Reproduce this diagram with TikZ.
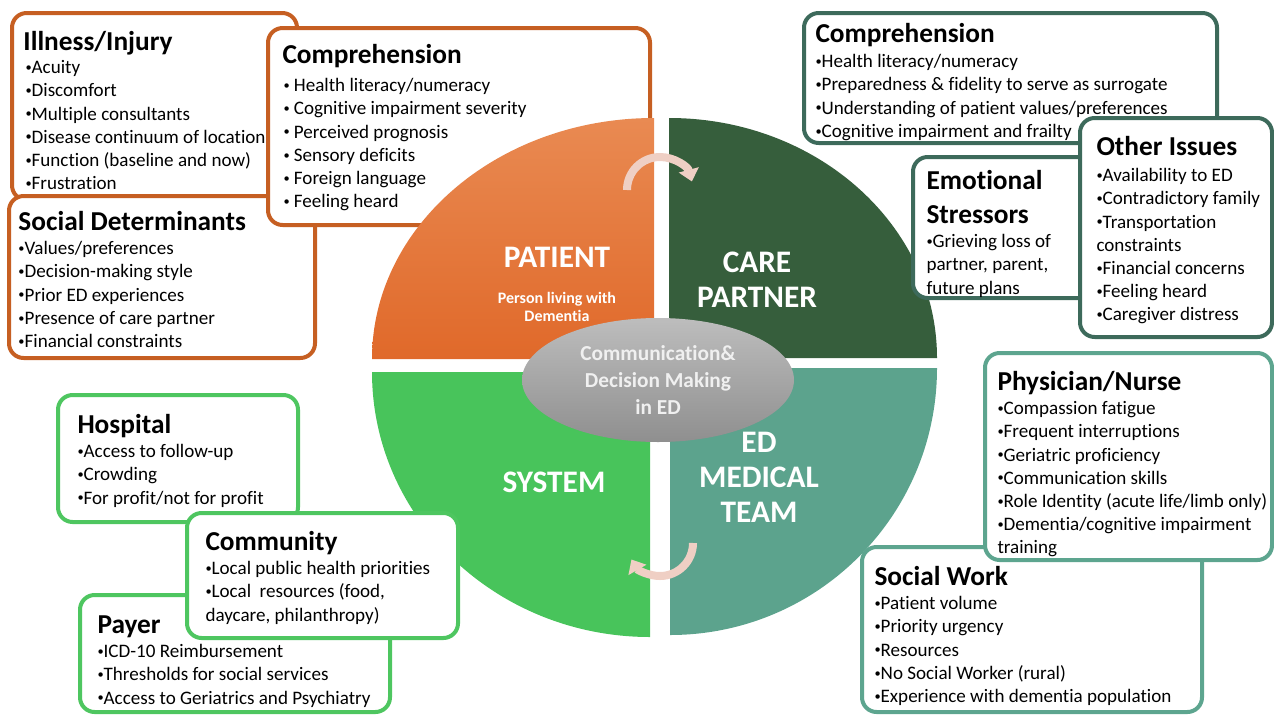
\documentclass[tikz,border=0pt]{standalone}
\usepackage{fontspec}
\usepackage{graphicx}
\setmainfont{Carlito}[Ligatures=NoCommon]
\usetikzlibrary{shapes.geometric,arrows.meta}

\definecolor{patTop}{HTML}{E98A52}
\definecolor{patBot}{HTML}{E0692A}
\definecolor{patEdge}{HTML}{C65F22}
\definecolor{cpFill}{HTML}{365E3C}
\definecolor{cpEdge}{HTML}{3D6A5B}
\definecolor{sysFill}{HTML}{48C45B}
\definecolor{sysEdge}{HTML}{4EC660}
\definecolor{edFill}{HTML}{5CA38D}
\definecolor{edEdge}{HTML}{5DA58F}
\definecolor{arrPink}{HTML}{EFCFC4}
\definecolor{hubTop}{HTML}{BDBDBD}
\definecolor{hubBot}{HTML}{8F8F8F}
\definecolor{hubText}{HTML}{F0F0F0}

\newcommand{\bul}{\raisebox{0.25ex}{\scalebox{0.65}{•}}}

\tikzset{every picture/.style={line width=0.75pt}}
\tikzset{
  patbox/.style={draw=patEdge, line width=3pt, fill=white, rounded corners=11pt},
  cpbox/.style={draw=cpEdge, line width=3pt, fill=white, rounded corners=11pt},
  sysbox/.style={draw=sysEdge, line width=3pt, fill=white, rounded corners=11pt},
  edbox/.style={draw=edEdge, line width=3pt, fill=white, rounded corners=11pt},
  ttl/.style={anchor=base west, inner sep=0pt, font=\fontsize{20.5}{25}\selectfont\bfseries},
  lst/.style={anchor=north west, inner sep=0pt, align=left, font=\fontsize{14.3}{17.4}\selectfont},
  quadlbl/.style={text=white, inner sep=0pt, align=center, font=\fontsize{23.5}{26.3}\selectfont\bfseries},
  sublbl/.style={text=white, inner sep=0pt, align=center, font=\fontsize{12}{13}\selectfont\bfseries},
  hub/.style={ellipse, minimum width=204pt, minimum height=93pt, inner sep=0pt, top color=hubTop, bottom color=hubBot, text=hubText, align=center, font=\fontsize{16}{20}\selectfont\bfseries},
  cyc/.style={draw=arrPink, line width=6pt, -{Triangle[width=15pt,length=9pt]}}
}

\begin{document}
\begin{tikzpicture}[x=0.75pt,y=0.75pt,yscale=-1,xscale=1]
\useasboundingbox (0,0) rectangle (1274,714);

%Patient boxes
\draw[patbox] (12,13) rectangle (297,200);
\node[ttl] (illT) at (23,50) {Illness/Injury};
\node[lst] (illL) at (25,60) {\bul Acuity\\\bul Discomfort\\\bul Multiple consultants\\\bul Disease continuum of location\\\bul Function (baseline and now)\\\bul Frustration};
\draw[patbox] (9,196) rectangle (315,358);
\node[ttl] (socT) at (18,230) {Social Determinants};
\node[lst] (socL) at (18,241) {\bul Values/preferences\\\bul Decision-making style\\\bul Prior ED experiences\\\bul Presence of care partner\\\bul Financial constraints};
\draw[patbox] (268,28) rectangle (650,225);
\node[ttl] (cmpT) at (282,63) {Comprehension};
\node[lst] (cmpL) at (283,78) {\bul{} Health literacy/numeracy\\\bul{} Cognitive impairment severity\\\bul{} Perceived prognosis\\\bul{} Sensory deficits\\\bul{} Foreign language\\\bul{} Feeling heard};

%Quadrants
\shade[top color=patTop, bottom color=patBot] (654,359) -- (372,359) arc[start angle=180, end angle=270, x radius=282, y radius=241] -- cycle;
\fill[cpFill] (669,358) -- (669,118) arc[start angle=270, end angle=360, x radius=268, y radius=240] -- cycle;
\fill[sysFill] (650,372) -- (372,372) arc[start angle=180, end angle=90, x radius=278, y radius=265] -- cycle;
\fill[edFill] (670,368) -- (937,368) arc[start angle=0, end angle=90, x radius=267, y radius=267] -- cycle;

%Cycle arrows
\coordinate (arrA) at (627,190);
\coordinate (arrB) at (693,543);
\draw[cyc] (arrA) arc[start angle=180, end angle=345, radius=33];
\draw[cyc] (arrB) arc[start angle=0, end angle=150, radius=33];

% Text Node
\node[quadlbl] (patLbl) at (557,257) {PATIENT};
\node[sublbl] (patSub) at (557,307) {Person living with\\Dementia};
\node[quadlbl] (cpLbl) at (757,280) {CARE\\PARTNER};
\node[quadlbl] (sysLbl) at (554,482) {SYSTEM};
\node[quadlbl] (edLbl) at (759,477) {ED\\MEDICAL\\TEAM};
\node[hub] (hubN) at (658,380) {Communication\&\\Decision Making\\in ED};

%System boxes
\draw[sysbox] (58,395) rectangle (298,522);
\node[ttl] (hosT) at (77,433) {Hospital};
\node[lst] (hosL) at (77,444) {\bul Access to follow-up\\\bul Crowding\\\bul For profit/not for profit};
\draw[sysbox] (80,595) rectangle (390,712);
\node[ttl] (payT) at (97,633) {Payer};
\node[lst] (payL) at (97,644) {\bul ICD-10 Reimbursement\\\bul Thresholds for social services\\\bul Access to Geriatrics and Psychiatry};
\draw[sysbox] (187,513) rectangle (458,638);
\node[ttl] (comT) at (205,550) {Community};
\node[lst] (comL) at (205,561) {\bul Local public health priorities\\\bul Local~ resources (food,\\daycare, philanthropy)};

%Care partner boxes
\draw[cpbox] (804,13) rectangle (1217,143);
\node[ttl] (cpcT) at (815,42) {Comprehension};
\node[lst] (cpcL) at (815,54) {\bul Health literacy/numeracy\\\bul Preparedness \& fidelity to serve as surrogate\\\bul Understanding of patient values/preferences\\\bul Cognitive impairment and frailty};
\draw[cpbox] (913,157) rectangle (1100,298);
\node[ttl, align=left, anchor=north west] (emoT) at (926,170) {Emotional\\Stressors};
\node[lst] (emoL) at (926,234) {\bul Grieving loss of\\partner, parent,\\future plans};
\draw[cpbox] (1080,118) rectangle (1272,337);
\node[ttl] (othT) at (1096,155) {Other Issues};
\node[lst] (othL) at (1096,168) {\bul Availability to ED\\\bul Contradictory family\\\bul Transportation\\constraints\\\bul Financial concerns\\\bul Feeling heard\\\bul Caregiver distress};

%ED team boxes
\draw[edbox] (862,547) rectangle (1202,712);
\node[ttl] (swT) at (874,585) {Social Work};
\node[lst] (swL) at (874,596) {\bul Patient volume\\\bul Priority urgency\\\bul Resources\\\bul No Social Worker (rural)\\\bul Experience with dementia population};
\draw[edbox] (985,353) rectangle (1272,560);
\node[ttl] (phyT) at (997,390) {Physician/Nurse};
\node[lst] (phyL) at (997,401) {\bul Compassion fatigue\\\bul Frequent interruptions\\\bul Geriatric proficiency\\\bul Communication skills\\\bul Role Identity (acute life/limb only)\\\bul Dementia/cognitive impairment\\training};

\end{tikzpicture}
\end{document}
